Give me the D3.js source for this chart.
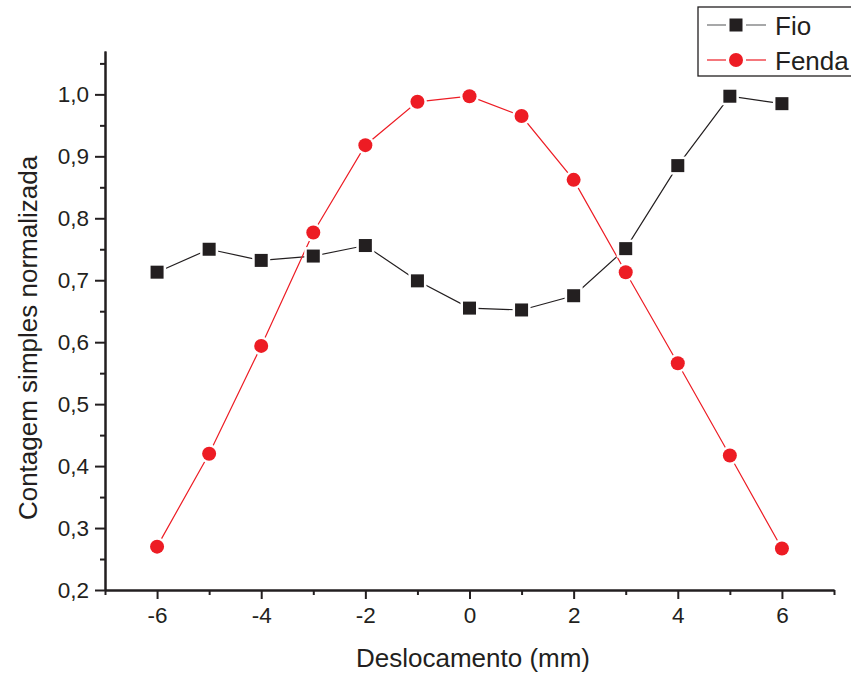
<!DOCTYPE html>
<html>
<head>
<meta charset="utf-8">
<script src="https://cdn.jsdelivr.net/npm/d3@7"></script>
<style>
  body { margin: 0; background: #fff; }
  text { font-family: "Liberation Sans", Arial, sans-serif; fill: #231f20; }
</style>
</head>
<body>
<div id="chart"></div>
<script>
// data
const deslocamento = [-6, -5, -4, -3, -2, -1, 0, 1, 2, 3, 4, 5, 6];
const fio   = [0.713, 0.750, 0.732, 0.739, 0.756, 0.699, 0.655, 0.652, 0.675, 0.751, 0.885, 0.997, 0.985];
const fenda = [0.270, 0.420, 0.594, 0.777, 0.918, 0.988, 0.997, 0.965, 0.862, 0.713, 0.566, 0.417, 0.267];
const xMajor = [-6, -4, -2, 0, 2, 4, 6];
const xMinor = [-7, -5, -3, -1, 1, 3, 5, 7];
const yMajor = [0.2, 0.3, 0.4, 0.5, 0.6, 0.7, 0.8, 0.9, 1.0];
const yMinor = [0.25, 0.35, 0.45, 0.55, 0.65, 0.75, 0.85, 0.95, 1.05];
const seriesNames = ["Fio", "Fenda"];

let width = 851, height = 679;
let ink = "#231f20", red = "#ed1c24";
/** SVG */
let svg = d3.select("#chart").append("svg")
  .attr("width", width)
  .attr("height", height);

/** SCALES */
let x = d3.scaleLinear().domain([-7, 7]).range([105, 834]);
let y = d3.scaleLinear().domain([0.2, 1.07]).range([590, 51]);
let comma = (d) => d3.format(".1f")(d).replace(".", ",");
let plain = (d) => String(d);   // keep ASCII hyphen like the original

/** AXES */
function styleAxis(g){
  g.select(".domain").attr("stroke", ink).attr("stroke-width", 2);
  g.selectAll(".tick line").attr("stroke", ink).attr("stroke-width", 2);
  g.selectAll(".tick text").attr("font-size", 22.5).attr("fill", ink)
    .attr("font-family", "'Liberation Sans', Arial, sans-serif");
}
svg.append("g").attr("transform", "translate(0,590)")
  .call(d3.axisBottom(x).tickValues(xMinor).tickSize(5).tickSizeOuter(0).tickFormat(""))
  .call(styleAxis);
svg.append("g").attr("transform", "translate(0,590)")
  .call(d3.axisBottom(x).tickValues(xMajor).tickSize(9).tickSizeOuter(0).tickPadding(8).tickFormat(plain))
  .call(styleAxis);
svg.append("g").attr("transform", "translate(105,0)")
  .call(d3.axisLeft(y).tickValues(yMinor).tickSize(5).tickSizeOuter(0).tickFormat(""))
  .call(styleAxis);
svg.append("g").attr("transform", "translate(105,0)")
  .call(d3.axisLeft(y).tickValues(yMajor).tickSize(10).tickSizeOuter(0).tickPadding(6).tickFormat(comma))
  .call(styleAxis);

/** AXIS TITLES */
svg.append("text")
  .text("Deslocamento (mm)")
  .attr("x", 473).attr("y", 667)
  .attr("text-anchor", "middle")
  .attr("font-size", 26);
svg.append("text")
  .text("Contagem simples normalizada")
  .attr("transform", "translate(37,338) rotate(-90)")
  .attr("text-anchor", "middle")
  .attr("font-size", 26);

/** LINES + MARKERS */
let line = d3.line().x((d) => x(d[0])).y((d) => y(d[1]));
let fioPts = deslocamento.map((d, i) => [d, fio[i]]);
let fendaPts = deslocamento.map((d, i) => [d, fenda[i]]);

svg.append("path").datum(fioPts).attr("d", line)
  .attr("fill", "none").attr("stroke", ink).attr("stroke-width", 1.2);
svg.append("path").datum(fendaPts).attr("d", line)
  .attr("fill", "none").attr("stroke", red).attr("stroke-width", 1.2);

svg.append("g").selectAll("rect")
  .data(fioPts).enter()
  .append("rect")
  .attr("x", (d) => x(d[0]) - 6.5)
  .attr("y", (d) => y(d[1]) - 6.5)
  .attr("width", 13).attr("height", 13)
  .attr("fill", ink)
  .attr("stroke", "#fff").attr("stroke-width", 5)
  .style("paint-order", "stroke");

svg.append("g").selectAll("circle")
  .data(fendaPts).enter()
  .append("circle")
  .attr("cx", (d) => x(d[0]))
  .attr("cy", (d) => y(d[1]))
  .attr("r", 7)
  .attr("fill", red)
  .attr("stroke", "#fff").attr("stroke-width", 5)
  .style("paint-order", "stroke");

/** LEGEND */
let legend = svg.append("g").attr("transform", "translate(698,7)");
legend.append("rect")
  .attr("x", 0).attr("y", 0)
  .attr("width", 160).attr("height", 69)
  .attr("fill", "#fff").attr("stroke", ink).attr("stroke-width", 1.3);
seriesNames.forEach((name, i) => {
  let cy = 18 + i * 35;
  let col = i === 0 ? "#6d6e71" : red;
  legend.append("line").attr("x1", 9).attr("x2", 28).attr("y1", cy).attr("y2", cy)
    .attr("stroke", col).attr("stroke-width", 1.2);
  legend.append("line").attr("x1", 48).attr("x2", 68).attr("y1", cy).attr("y2", cy)
    .attr("stroke", col).attr("stroke-width", 1.2);
  if(i === 0){
    legend.append("rect").attr("x", 38 - 6.5).attr("y", cy - 6.5)
      .attr("width", 13).attr("height", 13).attr("fill", ink);
  } else {
    legend.append("circle").attr("cx", 38).attr("cy", cy).attr("r", 7).attr("fill", red);
  }
  legend.append("text").text(name)
    .attr("x", 77).attr("y", cy + 10)
    .attr("font-size", 26);
});
</script>
</body>
</html>
